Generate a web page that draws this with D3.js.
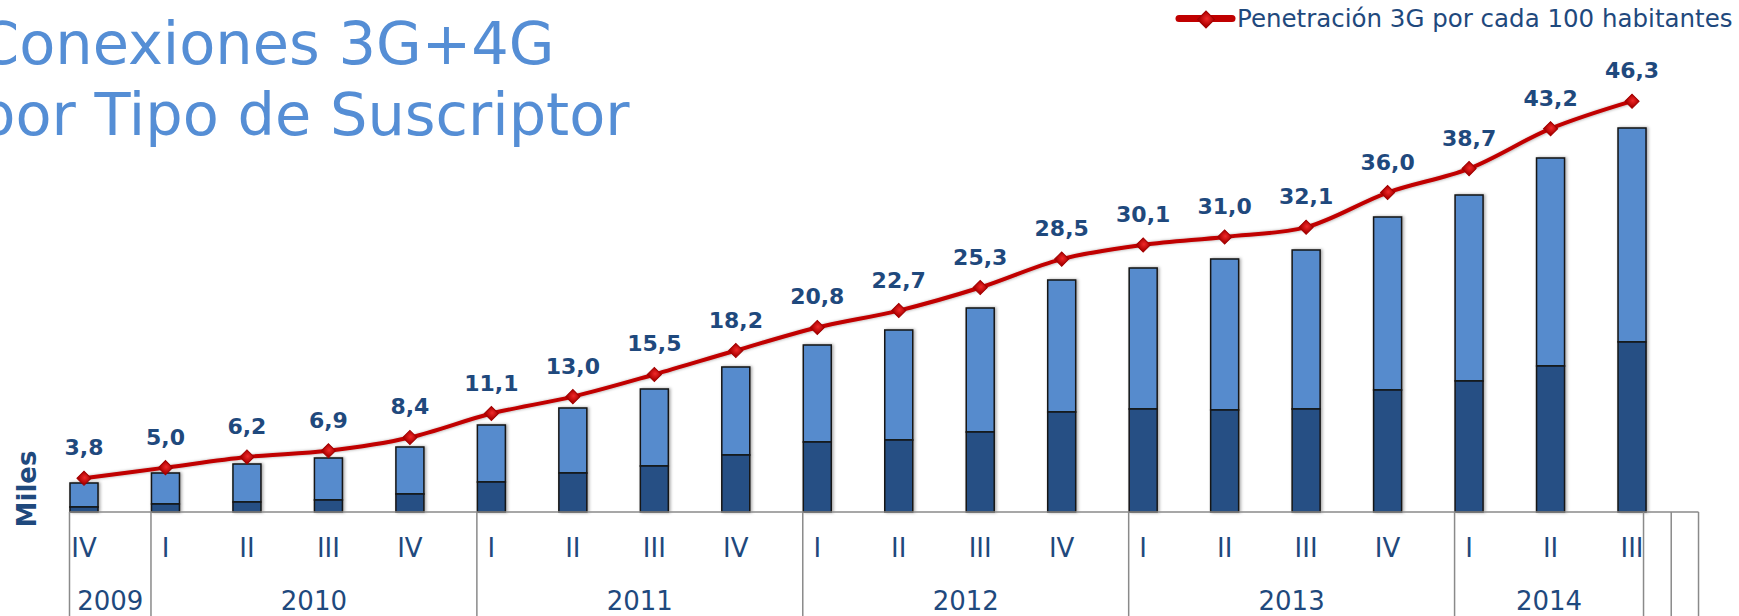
<!DOCTYPE html>
<html>
<head>
<meta charset="utf-8">
<script src="https://cdn.jsdelivr.net/npm/d3@7"></script>
<style>
  html, body { margin: 0; padding: 0; background: #fff; }
  svg { display: block; }
  text { font-family: Verdana, "DejaVu Sans", sans-serif; }
</style>
</head>
<body>
<svg id="chart" width="1739" height="616"></svg>
<script>
// ---- Data ----
const quarters = ["IV","I","II","III","IV","I","II","III","IV","I","II","III","IV","I","II","III","IV","I","II","III"];
const yearsOfQuarter = ["2009","2010","2010","2010","2010","2011","2011","2011","2011","2012","2012","2012","2012","2013","2013","2013","2013","2014","2014","2014"];
const years = ["2009","2010","2011","2012","2013","2014"];
// Stacked bars (Miles) – bottom (dark) segment and total
const darkSeries  = [50, 80, 100, 120, 180, 300, 390, 460, 570, 700, 720, 800, 1000, 1030, 1020, 1030, 1220, 1310, 1460, 1700];
const totalSeries = [290, 390, 480, 540, 650, 870, 1040, 1230, 1450, 1670, 1820, 2040, 2320, 2440, 2530, 2620, 2950, 3170, 3540, 3840];
// Penetración 3G por cada 100 habitantes
const penetration = [3.8, 5.0, 6.2, 6.9, 8.4, 11.1, 13.0, 15.5, 18.2, 20.8, 22.7, 25.3, 28.5, 30.1, 31.0, 32.1, 36.0, 38.7, 43.2, 46.3];
const titleLines = ["Conexiones 3G+4G", "por Tipo de Suscriptor"];
const legendLabel = "Penetración 3G por cada 100 habitantes";
const yAxisTitle = "Miles";

// ---- Setup ----
const svg = d3.select("#chart");
const cats = quarters.map((q, i) => yearsOfQuarter[i] + "-" + q);
const baseY = 512;
const step = 81.475;
const barW = 28;
const pad = 1 - barW / step;

const x = d3.scaleBand().domain(cats)
  .range([84 - step / 2, 84 + (cats.length - 0.5) * step])
  .paddingInner(pad).paddingOuter(pad / 2);
const y = d3.scaleLinear().domain([0, 4500]).range([baseY, baseY - 450]);
const y2 = d3.scaleLinear().domain([0, 50]).range([baseY, baseY - 443.65]);

const darkBlue = "#1F497D";
const defs = svg.append("defs");
const f = defs.append("filter").attr("id", "shadow").attr("x", "-30%").attr("y", "-10%").attr("width", "160%").attr("height", "120%");
f.append("feDropShadow").attr("dx", 1.5).attr("dy", 0).attr("stdDeviation", 1.5).attr("flood-color", "#000").attr("flood-opacity", 0.35);
const rg = defs.append("radialGradient").attr("id", "diam").attr("cx", "50%").attr("cy", "40%").attr("r", "60%");
rg.append("stop").attr("offset", "0%").attr("stop-color", "#ee2a2a");
rg.append("stop").attr("offset", "100%").attr("stop-color", "#b00000");

// ---- Title ----
svg.append("g").selectAll("text").data(titleLines).join("text")
  .attr("x", -22)
  .attr("y", (d, i) => i === 0 ? 64 : 135)
  .attr("font-size", 59)
  .attr("fill", "#558ED5")
  .text(d => d);

// ---- Bars ----
const bars = svg.append("g").attr("filter", "url(#shadow)");
const stackData = cats.map((c, i) => ({ c, dark: darkSeries[i], total: totalSeries[i] }));
bars.selectAll("rect.light").data(stackData).join("rect").attr("class", "light")
  .attr("x", d => x(d.c)).attr("width", x.bandwidth())
  .attr("y", d => y(d.total)).attr("height", d => y(d.dark) - y(d.total))
  .attr("fill", "#578BCD").attr("stroke", "#151515").attr("stroke-width", 1.5);
bars.selectAll("rect.dark").data(stackData).join("rect").attr("class", "dark")
  .attr("x", d => x(d.c)).attr("width", x.bandwidth())
  .attr("y", d => y(d.dark)).attr("height", d => y(0) - y(d.dark))
  .attr("fill", "#254F84").attr("stroke", "#151515").attr("stroke-width", 1.5);

// ---- Category axis (multi-level) ----
const axisG = svg.append("g").attr("stroke", "#8a8a8a").attr("stroke-width", 1.5);
const firstIdx = years.map(yr => yearsOfQuarter.indexOf(yr));
const bounds = firstIdx.map(i => x(cats[i]) - 0.5);
const endX = x(cats[cats.length - 1]) + x.bandwidth() - 2.5;
const extra = [endX, endX + 27.7, endX + 55];
axisG.append("line").attr("x1", bounds[0]).attr("x2", extra[2]).attr("y1", baseY).attr("y2", baseY);
axisG.selectAll("line.v").data(bounds.concat(extra)).join("line").attr("class", "v")
  .attr("x1", d => d).attr("x2", d => d).attr("y1", baseY).attr("y2", 616);

svg.append("g").selectAll("text").data(cats).join("text")
  .attr("x", d => x(d) + x.bandwidth() / 2).attr("y", 557)
  .attr("text-anchor", "middle").attr("font-size", 26).attr("fill", darkBlue)
  .text((d, i) => quarters[i]);

const yearEnds = bounds.slice(1).concat([endX]);
svg.append("g").selectAll("text").data(years).join("text")
  .attr("x", (d, i) => (bounds[i] + yearEnds[i]) / 2).attr("y", 610)
  .attr("text-anchor", "middle").attr("font-size", 26).attr("fill", darkBlue)
  .text(d => d);

// ---- Y axis title ----
svg.append("text").attr("transform", "translate(36,489) rotate(-90)")
  .attr("text-anchor", "middle").attr("font-size", 26).attr("font-weight", "bold")
  .attr("fill", darkBlue).text(yAxisTitle);

// ---- Line ----
const cx = (i) => x(cats[i]) + x.bandwidth() / 2;
const line = d3.line().x((d, i) => cx(i)).y(d => y2(d)).curve(d3.curveCatmullRom.alpha(0.5));
svg.append("path").datum(penetration).attr("d", line)
  .attr("fill", "none").attr("stroke", "#C00000").attr("stroke-width", 4)
  .attr("filter", "url(#shadow)");
const diamond = d3.symbol().type(d3.symbolSquare).size(100);
svg.append("g").selectAll("path").data(penetration).join("path")
  .attr("d", diamond)
  .attr("transform", (d, i) => `translate(${cx(i)},${y2(d)}) rotate(45)`)
  .attr("fill", "url(#diam)").attr("stroke", "#a00000").attr("stroke-width", 1);

// ---- Data labels ----
svg.append("g").selectAll("text").data(penetration).join("text")
  .attr("x", (d, i) => cx(i)).attr("y", d => y2(d) - 23)
  .attr("text-anchor", "middle").attr("font-size", 22).attr("font-weight", "bold")
  .attr("fill", darkBlue)
  .text(d => d3.format(".1f")(d).replace(".", ","));

// ---- Legend ----
const lg = svg.append("g");
lg.append("line").attr("x1", 1179).attr("x2", 1232).attr("y1", 18.5).attr("y2", 18.5)
  .attr("stroke", "#C00000").attr("stroke-width", 7).attr("stroke-linecap", "round");
lg.append("path").attr("d", d3.symbol().type(d3.symbolSquare).size(144))
  .attr("transform", "translate(1206,19.5) rotate(45)")
  .attr("fill", "url(#diam)").attr("stroke", "#a00000").attr("stroke-width", 1);
lg.append("text").attr("x", 1237).attr("y", 26.7).attr("font-size", 24.5)
  .attr("fill", darkBlue).text(legendLabel);
</script>
</body>
</html>
